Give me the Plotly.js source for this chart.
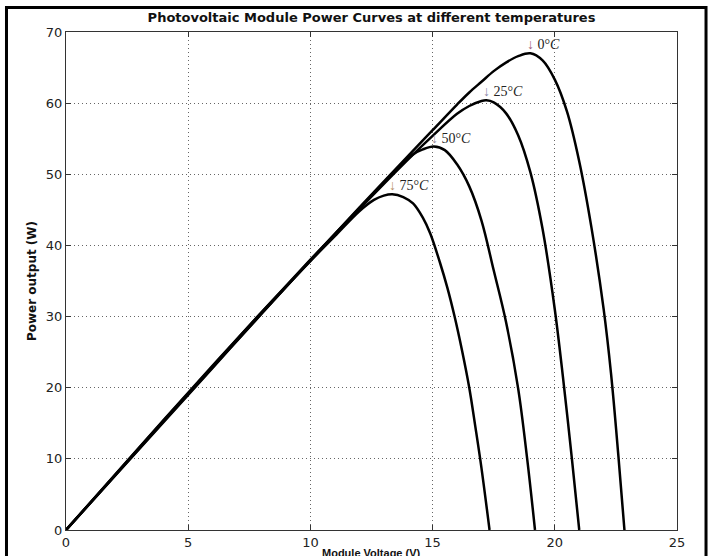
<!DOCTYPE html>
<html>
<head>
<meta charset="utf-8">
<script src="https://cdn.plot.ly/plotly-3.0.1.min.js"></script>
<style>html,body{margin:0;padding:0;background:#fff;}#chart{width:710px;height:556px;}</style>
</head>
<body>
<div id="chart"></div>
<script>
// Module voltage (V) and power output (W)
const v0C  = [0, 2, 4, 6, 8, 10, 12, 14, 15, 16, 16.5, 17, 17.5, 18, 18.5, 19.0, 19.5, 20.0, 20.5, 21.0, 21.5, 22.0, 22.3, 22.6, 22.85];
const p0C  = [0, 7.6, 15.2, 22.8, 30.4, 37.9, 45.3, 52.6, 56.2, 59.8, 61.5, 63.0, 64.5, 65.7, 66.6, 67.0, 66.0, 63.3, 58.8, 51.8, 42.5, 31.0, 22.0, 10.5, 0];

const v25C = [0, 2, 4, 6, 8, 10, 12, 14, 15, 16, 16.5, 17.0, 17.2, 17.5, 18.0, 18.5, 19.0, 19.5, 20.0, 20.35, 20.7, 21.0];
const p25C = [0, 7.65, 15.3, 22.9, 30.4, 37.9, 45.1, 52.1, 55.4, 58.5, 59.6, 60.3, 60.4, 60.1, 58.6, 55.5, 50.3, 42.3, 31.0, 21.0, 10.0, 0];

const v50C = [0, 2, 4, 6, 8, 10, 12, 13, 13.7, 14.2, 14.6, 15.05, 15.5, 16.0, 16.5, 17.0, 17.5, 18.0, 18.5, 18.87, 19.19];
const p50C = [0, 7.7, 15.4, 23.0, 30.6, 38.0, 45.2, 48.8, 51.3, 52.8, 53.5, 53.9, 53.4, 51.4, 48.3, 43.5, 36.5, 29.3, 19.9, 10.0, 0];

const v75C = [0, 2, 4, 6, 8, 10, 11, 12, 12.6, 13.0, 13.35, 13.8, 14.2, 14.6, 14.9, 15.3, 15.6, 15.9, 16.2, 16.5, 16.75, 17.0, 17.33];
const p75C = [0, 7.75, 15.5, 23.1, 30.6, 37.8, 41.3, 44.8, 46.4, 47.0, 47.2, 46.8, 45.9, 43.9, 41.7, 37.6, 34.1, 30.0, 25.3, 20.0, 14.5, 8.7, 0];

const seriesNames = ['0°C', '25°C', '50°C', '75°C'];
const peakV = [19.0, 17.2, 15.05, 13.35];
const peakP = [67.0, 60.4, 53.9, 47.2];
const labelHtml = ['0°<i>C</i>', '25°<i>C</i>', '50°<i>C</i>', '75°<i>C</i>'];
const arrowColors = ['#a0607e', '#8a86a8', '#9a8c9a', '#b89068'];

const xTicks = [0, 5, 10, 15, 20, 25];
const yTicks = [0, 10, 20, 30, 40, 50, 60, 70];
const xTitle = 'Module Voltage (V)';
const yTitle = 'Power output (W)';

const xs = [v0C, v25C, v50C, v75C];
const ys = [p0C, p25C, p50C, p75C];

const traces = xs.map((x, i) => ({
  x: x, y: ys[i], type: 'scatter', mode: 'lines', name: seriesNames[i],
  line: {color: '#000', width: 2.5, shape: 'spline', smoothing: 1.0},
  hoverinfo: 'x+y+name'
}));

const sansFont = 'DejaVu Sans, Liberation Sans, Arial, sans-serif';

const annotations = peakV.map((pv, i) => ({
  x: pv, y: peakP[i], xref: 'x', yref: 'y',
  xanchor: 'left', yanchor: 'bottom', xshift: -5, yshift: -1,
  showarrow: false,
  text: '<span style="color:' + arrowColors[i] + '">↓</span> ' + labelHtml[i],
  font: {family: 'Liberation Serif, DejaVu Serif, serif', size: 14, color: '#222'}
}));
// x-axis title placed just below the tick labels, between "10" and "15" (partly cut by the page edge, as in the reference)
annotations.push({
  text: xTitle, xref: 'paper', yref: 'paper', x: 0.5, y: 0,
  xanchor: 'center', yanchor: 'top', yshift: -15, showarrow: false,
  font: {family: 'Liberation Sans, Arial, sans-serif', size: 11, weight: 'bold', color: '#111'}
});

const axisCommon = {
  showline: true, mirror: 'ticks', linecolor: '#333', linewidth: 1,
  ticks: 'inside', ticklen: 5, tickcolor: '#333', tickwidth: 1,
  showgrid: true, gridcolor: '#666', griddash: '1px,3px', gridwidth: 1,
  zeroline: false, automargin: false,
  tickfont: {family: sansFont, size: 13, color: '#222'}
};

const layout = {
  width: 710, height: 556,
  margin: {l: 66, r: 33, t: 32, b: 26},
  paper_bgcolor: '#fff', plot_bgcolor: '#fff',
  showlegend: false,
  title: {
    text: 'Photovoltaic Module Power Curves at different temperatures',
    xref: 'paper', x: 0.5, xanchor: 'center',
    yref: 'container', y: 0.969, yanchor: 'middle',
    font: {family: sansFont, size: 13, weight: 'bold', color: '#111'}
  },
  xaxis: Object.assign({}, axisCommon, {
    range: [0, 25], tickmode: 'array', tickvals: xTicks
  }),
  yaxis: Object.assign({}, axisCommon, {
    range: [0, 70], tickmode: 'array', tickvals: yTicks,
    title: {text: yTitle, standoff: 6,
      font: {family: sansFont, size: 12, weight: 'bold', color: '#111'}}
  }),
  annotations: annotations,
  shapes: [{
    type: 'rect', xref: 'paper', yref: 'paper',
    x0: -0.0974, x1: 1.0475, y0: -0.2, y1: 1.0492,
    line: {color: '#000', width: 3}, fillcolor: 'rgba(0,0,0,0)', layer: 'above'
  }]
};

Plotly.newPlot('chart', traces, layout, {displayModeBar: false, staticPlot: true});
</script>
</body>
</html>
